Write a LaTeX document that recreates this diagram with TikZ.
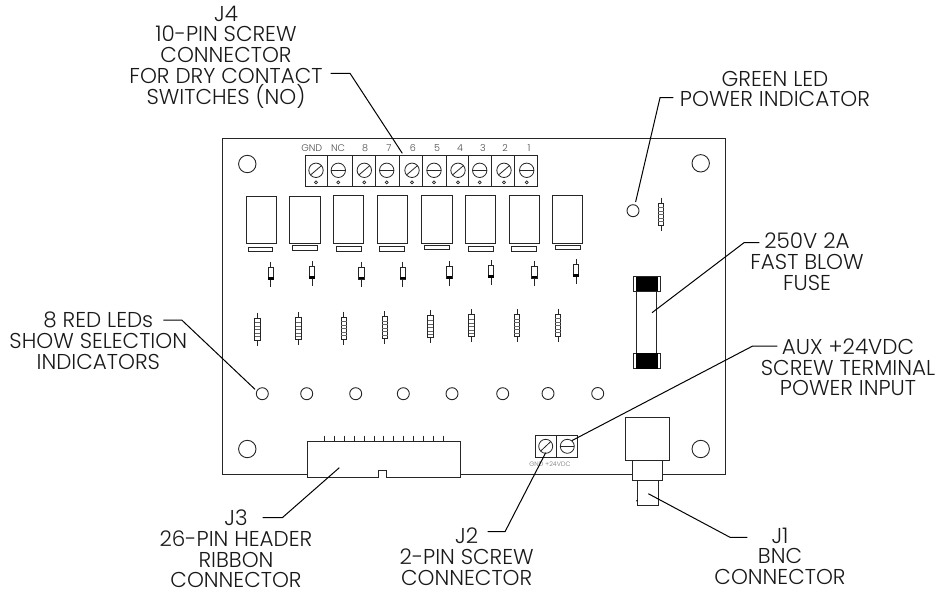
\documentclass[tikz,border=0pt]{standalone}
\usepackage{fontspec}
\setmainfont{Poppins Light}
\begin{document}
\begin{tikzpicture}[x=1pt,y=-1pt,line join=miter,
  part/.style={draw=black!85,line width=0.9pt,fill=white},
  wire/.style={draw=black!85,line width=0.8pt},
  leader/.style={draw=black,line width=1pt},
  callout/.style={align=center,inner sep=0pt,text=black!90,font=\fontsize{21.5}{20.8}\selectfont},
  pinlabel/.style={inner sep=0pt,text=black!70,font=\fontsize{9.6}{10}\selectfont},
  tinylabel/.style={inner sep=0pt,text=black!55,font=\fontsize{6.4}{7}\selectfont},
  hole/.style={circle,draw=black!85,line width=0.9pt,minimum size=17.4pt,inner sep=0pt},
  led/.style={circle,draw=black!85,line width=0.9pt,minimum size=12pt,inner sep=0pt}]
\useasboundingbox (0,0) rectangle (941,594);
% board
\draw[part,fill=none] (307.7,474) -- (222.5,474) -- (222.5,138) -- (725.7,138) -- (725.7,474) -- (662.7,474);
\draw[part,fill=none] (460.3,474) -- (632,474);
% mounting holes
\node[hole] (h1) at (247.3,164) {};
\node[hole] (h2) at (700.7,163.3) {};
\node[hole] (h3) at (247.3,449) {};
\node[hole] (h4) at (700.7,449) {};
% terminal strip J4
\draw[part] (305.7,155) rectangle (537,186);
\foreach \x in {327,352.3,375,399.3,422.7,446,468.7,491.7,514.5}
  \draw[wire] (\x,155) -- (\x,186);
\foreach \x/\k in {316/d,338.3/h,364.3/d,386.7/h,412/d,434/h,458/d,479.7/h,504/d,526.7/h}{
  \draw[wire] (\x,170.3) circle[radius=7.2];
  \if\k d
    \draw[wire] (\x-5.5,175) -- (\x+5.5,165.6);
  \else
    \draw[wire] (\x-7.2,170.3) -- (\x+7.2,170.3);
  \fi
  \draw[wire,line width=0.7pt] (\x,182.4) circle[radius=1.5];
}
\foreach \x/\t/\n in {311.7/GND/a,338/NC/b,365/8/c,389/7/d,413/6/e,437/5/f,460/4/g,483/3/i,505/2/j,529/1/k}
  \node[pinlabel] (pin\n) at (\x,148) {\t};
% relays with slots
\foreach \a/\b/\t/\sa/\sb/\sy in {
  246.7/276.7/196.3/248/272.7/247,
  289.7/320/196/292.3/317/245.7,
  333.3/363.7/195.7/336.7/361.3/246.7,
  377/407.3/195.7/379.7/404.7/246.7,
  421.7/452/195.7/424/449/245,
  465.3/495.7/195.7/468.3/493.3/246.7,
  509/539.3/195.3/511.3/536.7/246.7,
  552.3/582.7/195.3/555.7/580.7/245.3}{
  \draw[part] (\a,\t) rectangle (\b,243);
  \draw[part] (\sa,\sy) rectangle (\sb,\sy+4.4);
}
% diodes
\foreach \x/\y in {270.7/262.3,312/261,361.3/261.7,402.7/261.7,449.3/261,491/260.3,534.3/260.7,576/259.3}{
  \draw[wire] (\x,\y) -- (\x,\y+25);
  \draw[part,line width=0.8pt] (\x-2.8,\y+5.2) rectangle (\x+2.8,\y+17.5);
  \fill[black] (\x-2.8,\y+14.8) rectangle (\x+2.8,\y+17.5);
}
% resistors
\foreach \x/\y in {257.3/312.7,298.3/312.3,343.7/311.7,384.7/311,430.3/310.3,471.3/309.3,517/309,558/308.5,661/197.7}{
  \draw[wire] (\x,\y) -- (\x,\y+33);
  \draw[part,line width=0.8pt] (\x-2.8,\y+5.5) rectangle (\x+2.8,\y+27.5);
  \foreach \d in {10,13.5,17,20.5,24}
    \draw[black!60,line width=0.6pt] (\x-2.8,\y+\d) -- (\x+2.8,\y+\d);
}
% LEDs
\node[led] (led1) at (262.3,393.7) {};
\node[led] (led2) at (306.7,393.7) {};
\node[led] (led3) at (355.7,393.7) {};
\node[led] (led4) at (403.3,393.7) {};
\node[led] (led5) at (452,393.7) {};
\node[led] (led6) at (502.7,393.7) {};
\node[led] (led7) at (548,393.5) {};
\node[led] (led8) at (597.7,393.5) {};
\node[led] (greenled) at (633,210.7) {};
% fuse
\draw[part] (636.7,285) rectangle (656.7,360);
\draw[part,line width=0.7pt] (633.3,276.7) rectangle (660.7,291.3);
\fill[black] (636,276.7) rectangle (657.7,291.3);
\draw[part,line width=0.7pt] (633.3,353.3) rectangle (660.7,368.7);
\fill[black] (636,353.3) rectangle (657.7,368.7);
% header J3
\draw[part] (307.7,441.7) -- (460.3,441.7) -- (460.3,477.3) -- (386.7,477.3) -- (386.7,470) -- (378.3,470) -- (378.3,477.3) -- (307.7,477.3) -- cycle;
\foreach \i in {0,...,12}
  \draw[wire] (324.7+\i*9.86,435.7) -- (324.7+\i*9.86,441.7);
% 2-pin J2
\draw[part] (535.7,435.7) rectangle (577.7,457);
\draw[wire] (556.7,435.7) -- (556.7,457);
\draw[wire] (545.7,446.3) circle[radius=7];
\draw[wire] (540.7,451) -- (550.7,441.6);
\draw[wire] (567.3,446.3) circle[radius=7];
\draw[wire] (560.3,446.3) -- (574.3,446.3);
\node[tinylabel] (j2label) at (550,463.7) {GND +24VDC};
% BNC J1
\draw[part] (625.7,417.3) rectangle (669,460.3);
\draw[part] (632,460.3) rectangle (662.7,480.7);
\draw[part] (637.3,480.7) rectangle (658,505.3);
\fill[black] (636.9,500.7) circle[radius=0.8];
% callouts
\node[callout] (tj4) at (226,57) {J4\\10-PIN SCREW\\CONNECTOR\\FOR DRY CONTACT\\SWITCHES (NO)};
\node[callout] (tgreen) at (775,89) {GREEN LED\\POWER INDICATOR};
\node[callout] (tfuse) at (807,262) {250V 2A\\FAST BLOW\\FUSE};
\node[callout] (taux) at (848,367.3) {AUX +24VDC\\SCREW TERMINAL\\POWER INPUT};
\node[callout] (tred) at (98.3,341) {8 RED LEDs\\SHOW SELECTION\\INDICATORS};
\node[callout] (tj3) at (236,549) {J3\\26-PIN HEADER\\RIBBON\\CONNECTOR};
\node[callout] (tj2) at (466.7,557) {J2\\2-PIN SCREW\\CONNECTOR};
\node[callout] (tj1) at (780,556.3) {J1\\BNC\\CONNECTOR};
% leader ends
\coordinate (a4) at (330.7,73.3); \coordinate (b4) at (350,73.3); \coordinate (c4) at (402.3,153.3);
\coordinate (ag) at (673.3,97.7); \coordinate (bg) at (660,97.7); \coordinate (cg) at (635.6,202);
\coordinate (af) at (759.3,242.7); \coordinate (bf) at (744,242.7); \coordinate (cf) at (652,312.7);
\coordinate (ax) at (777.3,346); \coordinate (bx) at (752.7,346); \coordinate (cx) at (571.7,440.7);
\coordinate (ar) at (163.3,320); \coordinate (br) at (181.7,320); \coordinate (cr) at (255,389.3);
\coordinate (a3) at (262.7,517.7); \coordinate (b3) at (282.3,517.7); \coordinate (c3) at (339.3,467.7);
\coordinate (a2) at (487.7,531.7); \coordinate (b2) at (505,531.7); \coordinate (c2) at (545.7,452.7);
\coordinate (a1) at (747.3,537.3); \coordinate (b1) at (730,537.3); \coordinate (c1) at (648.3,493.7);
\draw[leader] (a4) -- (b4) -- (c4);
\draw[leader] (ag) -- (bg) -- (cg);
\draw[leader] (af) -- (bf) -- (cf);
\draw[leader] (ax) -- (bx) -- (cx);
\draw[leader] (ar) -- (br) -- (cr);
\draw[leader] (a3) -- (b3) -- (c3);
\draw[leader] (a2) -- (b2) -- (c2);
\draw[leader] (a1) -- (b1) -- (c1);
\end{tikzpicture}
\end{document}
